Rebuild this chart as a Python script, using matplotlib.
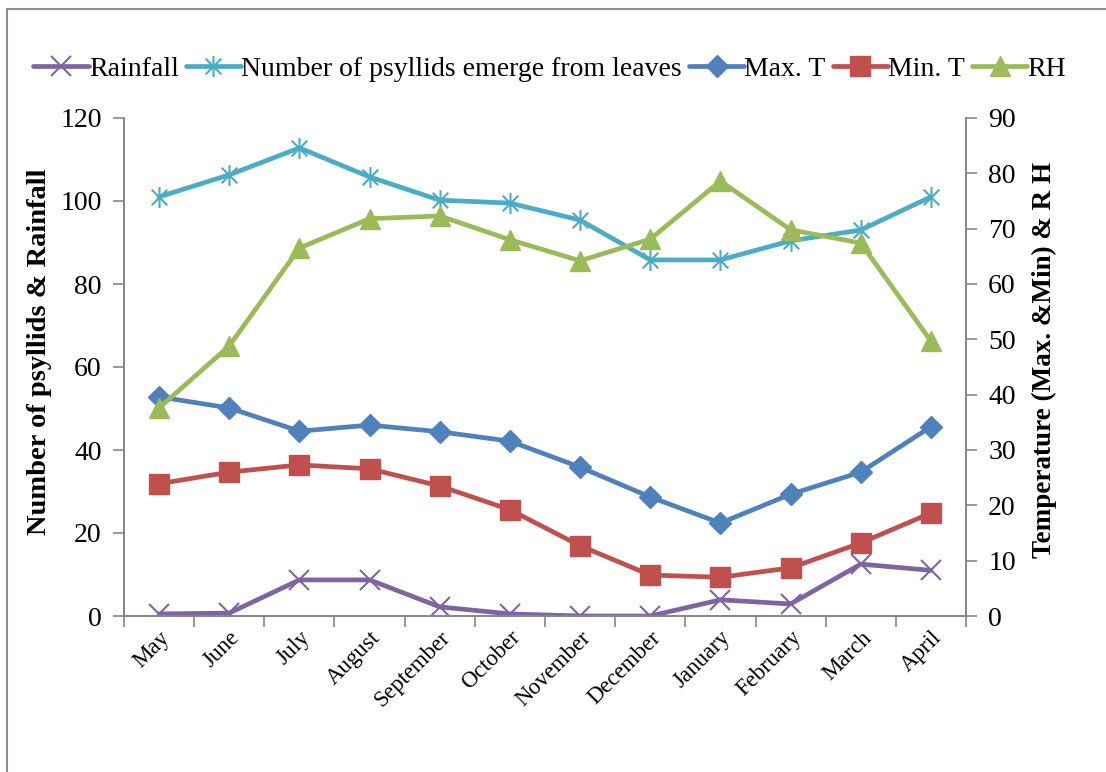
import matplotlib
matplotlib.use("Agg")
import matplotlib.pyplot as plt
from matplotlib.path import Path
from matplotlib.patches import Rectangle

plt.rcParams["font.family"] = ["Liberation Serif", "DejaVu Serif"]

months = ["May", "June", "July", "August", "September", "October",
          "November", "December", "January", "February", "March", "April"]

# left axis
rainfall = [0.5, 0.7, 8.7, 8.7, 2.2, 0.5, 0.0, 0.0, 3.9, 2.9, 12.5, 11.0]
psyllids = [101.0, 106.3, 112.8, 105.8, 100.2, 99.5, 95.4, 85.8, 85.8, 90.4, 93.0, 101.0]

# right axis
max_t = [39.6, 37.6, 33.4, 34.5, 33.3, 31.6, 26.9, 21.5, 16.8, 22.0, 26.0, 34.2]
min_t = [23.9, 26.0, 27.3, 26.6, 23.5, 19.2, 12.7, 7.4, 7.0, 8.7, 13.2, 18.6]
rh = [37.6, 48.8, 66.5, 71.8, 72.3, 68.0, 64.2, 68.1, 78.6, 69.8, 67.4, 49.7]

PURPLE = "#8064A2"
CYAN = "#4BACC6"
BLUE = "#4F81BD"
RED = "#C0504D"
GREEN = "#9BBB59"
AXIS_GREY = "#868686"

# asterisk-style marker: an x with a vertical bar through it
star = Path([(0, -1), (0, 1), (-0.75, -0.75), (0.75, 0.75), (-0.75, 0.75), (0.75, -0.75)],
            [Path.MOVETO, Path.LINETO, Path.MOVETO, Path.LINETO, Path.MOVETO, Path.LINETO])

fig = plt.figure(figsize=(11.06, 7.72), dpi=100)
ax = fig.add_axes([124 / 1106, 1 - 616 / 772, (966 - 124) / 1106, (616 - 118) / 772])
ax2 = ax.twinx()

x = range(len(months))
lw = 3.4

l1, = ax.plot(x, rainfall, color=PURPLE, lw=lw, marker="x", ms=14, mew=1.5,
              label="Rainfall", solid_capstyle="round")
l2, = ax.plot(x, psyllids, color=CYAN, lw=lw, marker=star, ms=15, mew=1.5,
              label="Number of psyllids emerge from leaves", solid_capstyle="round")
l3, = ax2.plot(x, max_t, color=BLUE, lw=lw, marker="D", ms=11,
               label="Max. T", solid_capstyle="round")
l4, = ax2.plot(x, min_t, color=RED, lw=lw, marker="s", ms=14,
               label="Min. T", solid_capstyle="round")
l5, = ax2.plot(x, rh, color=GREEN, lw=lw, marker="^", ms=15,
               label="RH", solid_capstyle="round")

ax.set_xlim(-0.5, len(months) - 0.5)
ax.set_ylim(0, 120)
ax.set_yticks(range(0, 121, 20))
ax2.set_ylim(0, 90)
ax2.set_yticks(range(0, 91, 10))

ax.set_xticks(list(x))
ax.set_xticklabels(months, rotation=45, ha="right", rotation_mode="anchor", fontsize=16.5)
ax.set_xticks([i - 0.5 for i in range(len(months) + 1)], minor=True)
ax.tick_params(axis="x", which="major", length=0, pad=8)
ax.tick_params(axis="x", which="minor", length=8, color=AXIS_GREY, width=1.2)
ax.tick_params(axis="y", length=8, color=AXIS_GREY, width=1.2, labelsize=20, pad=8)
ax2.tick_params(axis="y", length=8, color=AXIS_GREY, width=1.2, labelsize=20, pad=8)

for a in (ax, ax2):
    a.spines["top"].set_visible(False)
    for side in ("left", "right", "bottom"):
        a.spines[side].set_color(AXIS_GREY)
        a.spines[side].set_linewidth(1.2)

ax.set_ylabel("Number of psyllids & Rainfall", fontsize=20.5, fontweight="bold")
ax.yaxis.set_label_coords(-0.086, 0.53)
ax2.set_ylabel("Temperature (Max. &Min) & R H", fontsize=19.5, fontweight="bold")
ax2.yaxis.set_label_coords(1.078, 0.514)

fig.legend(handles=[l1, l2, l3, l4, l5], loc="center", bbox_to_anchor=(0.497, 0.910),
           ncol=5, frameon=False, fontsize=20, handlelength=2.0, handletextpad=0.0,
           columnspacing=0.25, borderaxespad=0)

# outer chart frame
fig.patches.append(Rectangle((7 / 1106, -0.05), 1.2, 1 - 9 / 772 + 0.05,
                             transform=fig.transFigure, fill=False,
                             edgecolor="#8C8C8C", lw=1.5))

fig.savefig("out.png", dpi=100)
